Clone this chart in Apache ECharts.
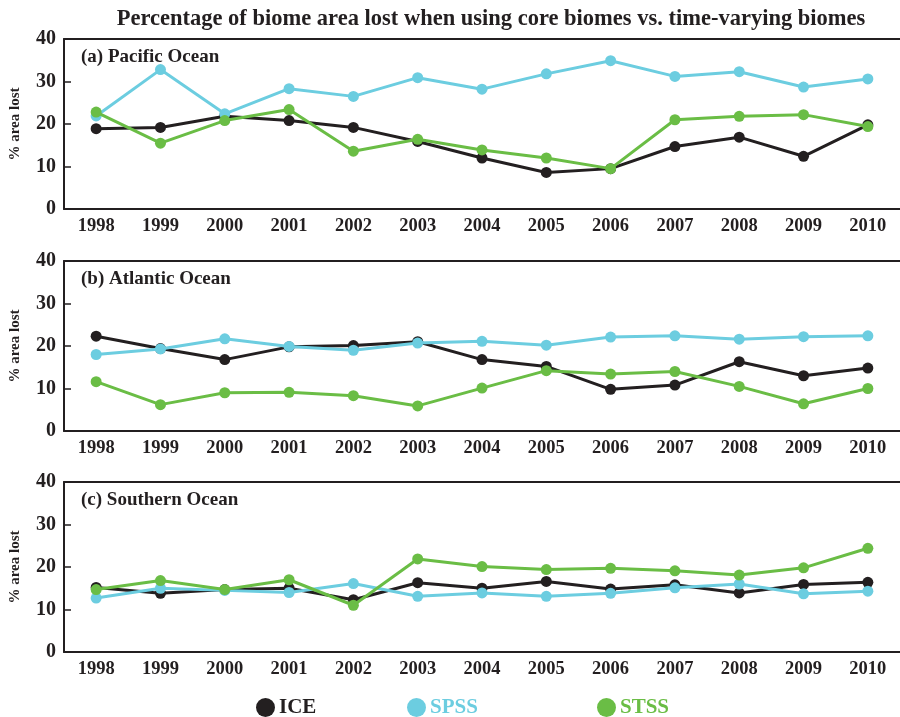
<!DOCTYPE html>
<html>
<head>
<meta charset="utf-8">
<script src="https://cdn.jsdelivr.net/npm/echarts@6/dist/echarts.min.js"></script>
<style>
  html, body { margin: 0; padding: 0; background: #ffffff; }
  #chart { width: 900px; height: 717px; }
</style>
</head>
<body>
<div id="chart"></div>
<script>
// years on the x axis
const years = ['1998', '1999', '2000', '2001', '2002', '2003', '2004', '2005', '2006', '2007', '2008', '2009', '2010']

// (a) Pacific Ocean
const pacIce = [18.9, 19.2, 21.8, 20.8, 19.2, 15.9, 12.0, 8.6, 9.5, 14.7, 16.9, 12.4, 19.8]
const pacSpss = [21.9, 32.8, 22.4, 28.3, 26.5, 30.9, 28.2, 31.8, 34.9, 31.2, 32.3, 28.7, 30.6]
const pacStss = [22.8, 15.5, 20.8, 23.4, 13.6, 16.4, 13.9, 12.0, 9.5, 21.0, 21.8, 22.2, 19.4]

// (b) Atlantic Ocean
const atlIce = [22.3, 19.4, 16.8, 19.8, 20.1, 21.0, 16.8, 15.2, 9.8, 10.8, 16.3, 13.0, 14.8]
const atlSpss = [18.0, 19.3, 21.7, 19.9, 19.0, 20.7, 21.1, 20.2, 22.1, 22.4, 21.6, 22.2, 22.4]
const atlStss = [11.6, 6.2, 9.0, 9.1, 8.3, 5.9, 10.1, 14.2, 13.4, 14.0, 10.5, 6.4, 10.0]

// (c) Southern Ocean
const souIce = [15.2, 13.8, 14.7, 15.0, 12.3, 16.3, 15.0, 16.6, 14.8, 15.8, 13.9, 15.9, 16.4]
const souSpss = [12.7, 15.0, 14.5, 14.0, 16.1, 13.1, 13.9, 13.1, 13.8, 15.1, 16.0, 13.7, 14.3]
const souStss = [14.7, 16.8, 14.7, 17.0, 11.0, 21.9, 20.1, 19.4, 19.7, 19.1, 18.1, 19.8, 24.4]

const yTicks = [0, 10, 20, 30, 40]

const panelNames = ['(a) Pacific Ocean', '(b) Atlantic Ocean', '(c) Southern Ocean']
const names = ['ICE', 'SPSS', 'STSS']
const colors = ['#231f20', '#6ccde0', '#6abd45']
const panelData = [
  [pacIce, pacSpss, pacStss],
  [atlIce, atlSpss, atlStss],
  [souIce, souSpss, souStss]
]

const font = 'Liberation Serif'
const ink = '#231f20'
const gridTops = [39, 261, 482]
const gridHeight = 170

const chart = echarts.init(document.getElementById('chart'))

const grids = []
const xAxes = []
const yAxes = []
const series = []
const titles = [{
  text: 'Percentage of biome area lost when using core biomes vs. time-varying biomes',
  left: 486,
  textAlign: 'center',
  top: 3,
  textStyle: { fontFamily: font, fontWeight: 'bold', fontSize: 22.5, color: ink }
}]

panelData.forEach((lines, p) => {
  grids.push({ left: 61, top: gridTops[p], width: 849, height: gridHeight, containLabel: false })

  // bottom x axis with labels
  xAxes.push({
    type: 'category',
    gridIndex: p,
    data: years,
    boundaryGap: true,
    position: 'bottom',
    axisLine: { lineStyle: { color: ink, width: 2 } },
    axisTick: { inside: true, alignWithLabel: true, length: 7, lineStyle: { color: ink, width: 1.5 } },
    axisLabel: { fontFamily: font, fontWeight: 'bold', fontSize: 18.5, color: ink, margin: 8 },
    splitLine: { show: false }
  })
  // top frame line with ticks
  xAxes.push({
    type: 'category',
    gridIndex: p,
    data: years,
    boundaryGap: true,
    position: 'top',
    axisLine: { lineStyle: { color: ink, width: 2 } },
    axisTick: { inside: true, alignWithLabel: true, length: 7, lineStyle: { color: ink, width: 1.5 } },
    axisLabel: { show: false },
    splitLine: { show: false }
  })

  yAxes.push({
    type: 'value',
    gridIndex: p,
    min: yTicks[0],
    max: yTicks[yTicks.length - 1],
    interval: 10,
    name: '% area lost',
    nameLocation: 'middle',
    nameRotate: 90,
    nameGap: 41,
    nameTextStyle: { fontFamily: font, fontWeight: 'bold', fontSize: 15, color: ink },
    axisLine: { show: true, lineStyle: { color: ink, width: 2 } },
    axisTick: { show: true, inside: true, length: 7, lineStyle: { color: ink, width: 1.5 } },
    axisLabel: { fontFamily: font, fontWeight: 'bold', fontSize: 20, color: ink, margin: 8 },
    splitLine: { show: false }
  })

  titles.push({
    text: panelNames[p],
    left: 76,
    top: gridTops[p] + 4,
    textStyle: { fontFamily: font, fontWeight: 'bold', fontSize: 19, color: ink }
  })

  lines.forEach((vals, i) => {
    series.push({
      name: names[i],
      type: 'line',
      xAxisIndex: p * 2,
      yAxisIndex: p,
      data: vals,
      symbol: 'circle',
      symbolSize: 11,
      z: 2 + i,
      lineStyle: { color: colors[i], width: 3 },
      itemStyle: { color: colors[i] },
      animation: false
    })
  })
})

// one legend per entry so the spacing matches
const legendLefts = [251, 402, 592]
const legends = names.map((n, i) => ({
  data: [{ name: n, textStyle: { color: colors[i] } }],
  left: legendLefts[i],
  top: 692,
  icon: 'circle',
  itemWidth: 19,
  itemHeight: 19,
  itemGap: 4,
  textStyle: { fontFamily: font, fontWeight: 'bold', fontSize: 21, padding: [0, 0, 0, -1] },
  selectedMode: false
}))

const options = {
  backgroundColor: '#ffffff',
  animation: false,
  title: titles,
  legend: legends,
  grid: grids,
  xAxis: xAxes,
  yAxis: yAxes,
  series: series
}
chart.setOption(options)
</script>
</body>
</html>
